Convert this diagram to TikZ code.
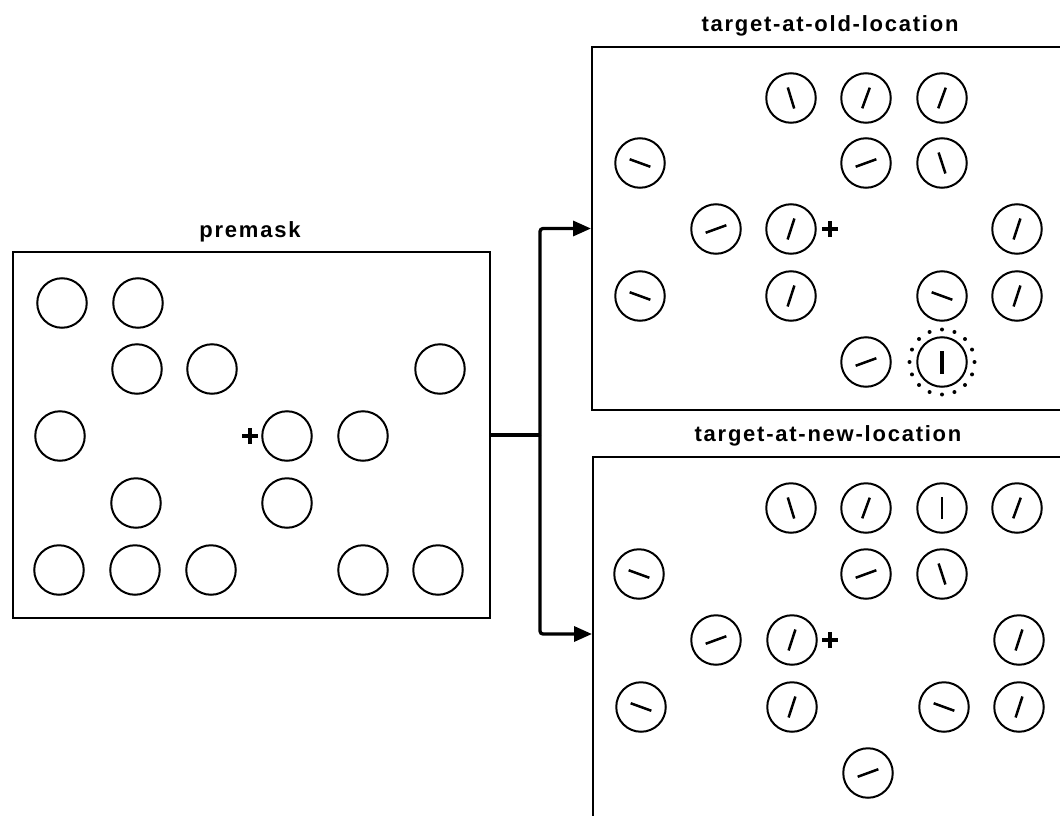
\documentclass[tikz,border=0pt]{standalone}
\usepackage{fontspec}
\setmainfont{Liberation Sans}
\newfontfamily\labelfont{Liberation Sans}[LetterSpace=8]
\usetikzlibrary{arrows.meta}

% disc with an oriented bar: name, x, y, bar angle
\newcommand\gab[4]{%
  \node[disc] (#1) at (#2,#3) {};
  \draw[bar] ([shift={(#4:11)}]#1.center) -- ([shift={(#4+180:11)}]#1.center);}
% fixation cross at a named coordinate
\newcommand\fixcross[3]{%
  \coordinate (#1) at (#2,#3);
  \draw[fixation] ([xshift=-8pt]#1) -- ([xshift=8pt]#1)
                  ([yshift=-8pt]#1) -- ([yshift=8pt]#1);}

\begin{document}
\begin{tikzpicture}[x=1pt,y=-1pt,
  panel/.style={draw, line width=2pt, rectangle, inner sep=0pt},
  disc/.style={circle, draw, line width=2pt, minimum size=49.5pt, inner sep=0pt},
  bar/.style={line width=2.5pt},
  targetbar/.style={line width=3.8pt},
  fixation/.style={line width=4.4pt},
  link/.style={line width=3.3pt, rounded corners=3pt},
  linkarrow/.style={link, -{Triangle[length=18pt,width=15pt]}},
  caption/.style={font=\labelfont\bfseries\fontsize{22}{26}\selectfont,
                  anchor=base, inner sep=0pt}
]
\useasboundingbox (0,0) rectangle (1060,816);
\clip (0,0) rectangle (1060,816);

% panels
\node[panel, minimum width=477pt, minimum height=366pt] (premask) at (251.5,435) {};
\node[panel, minimum width=520pt, minimum height=363pt] (oldbox) at (852,228.5) {};
\node[panel, minimum width=520pt, minimum height=443pt] (newbox) at (853,678.5) {};

% captions
\node[caption] (premaskcap) at (250,237) {premask};
\node[caption] (oldcap) at (830,32) {target-at-old-location};
\node[caption] (newcap) at (828,441) {target-at-new-location};

% connectors
\coordinate (split) at (540,435);
\coordinate (newin) at ([yshift=-178pt]newbox.north west);
\draw[link] (premask.east) -- (split);
\draw[linkarrow] (split) |- (oldbox.west);
\draw[linkarrow] (split) |- (newin);

% premask display
\foreach \n/\x/\y in {a/62/303, b/138/303,
                      c/137/369, d/212/369, e/440/369,
                      f/60/436, g/287/436, h/363/436,
                      i/136/503, j/287/503,
                      k/59/570, l/135/570, m/211/570, n/363/570, o/438/570}
  \node[disc] (pm\n) at (\x,\y) {};
\fixcross{fixpm}{250}{436}

% target-at-old-location display
\gab{oa}{791}{98}{73}
\gab{ob}{866}{98}{-70}
\gab{oc}{942}{98}{-70}
\gab{od}{640}{163}{20}
\gab{oe}{866}{163}{-20}
\gab{of}{942}{163}{72}
\gab{og}{716}{229}{-20}
\gab{oh}{791}{229}{-72}
\gab{oi}{1017}{229}{-72}
\gab{oj}{640}{296}{20}
\gab{ok}{791}{296}{-72}
\gab{ol}{942}{296}{20}
\gab{om}{1017}{296}{-72}
\gab{on}{866}{362}{-20}
\node[disc] (otarget) at (942,362) {};
\draw[targetbar] ([yshift=-11.5pt]otarget.center) -- ([yshift=11.5pt]otarget.center);
\foreach \k in {0,...,15}
  \fill ([shift={(\k*22.5:32.5)}]otarget.center) circle (2);
\fixcross{fixold}{830}{229}

% target-at-new-location display
\gab{na}{791}{508}{73}
\gab{nb}{866}{508}{-70}
\gab{nc}{942}{508}{90}
\gab{nd}{1017}{508}{-70}
\gab{ne}{639}{574}{20}
\gab{nf}{866}{574}{-20}
\gab{ng}{942}{574}{72}
\gab{nh}{716}{640}{-20}
\gab{ni}{792}{640}{-72}
\gab{nj}{1019}{640}{-72}
\gab{nk}{641}{707}{20}
\gab{nl}{792}{707}{-72}
\gab{nm}{944}{707}{20}
\gab{nn}{1019}{707}{-72}
\gab{no}{868}{773}{-20}
\fixcross{fixnew}{830}{640}
\end{tikzpicture}
\end{document}
